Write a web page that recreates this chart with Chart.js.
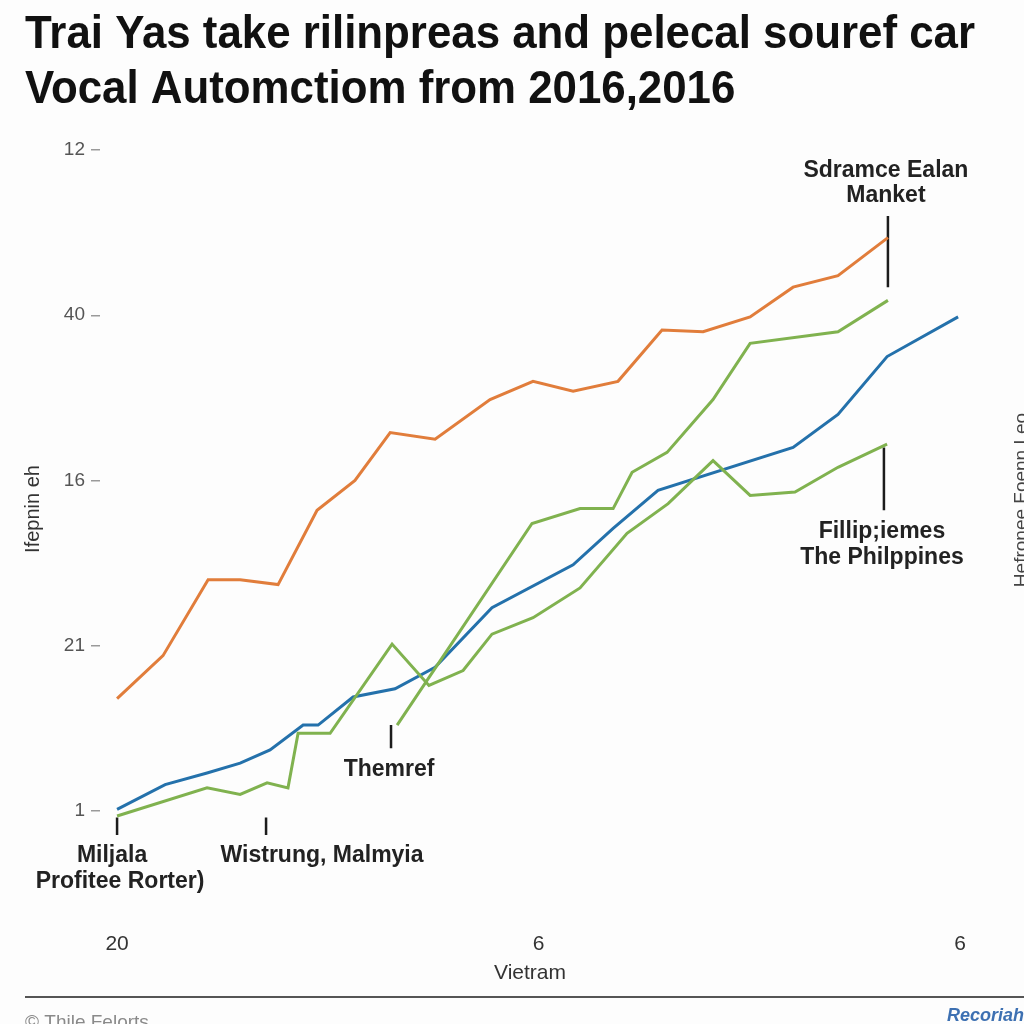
<!DOCTYPE html>
<html>
<head>
<meta charset="utf-8">
<script src="https://cdn.jsdelivr.net/npm/chart.js@4.4.0/dist/chart.umd.min.js"></script>
<style>
  html, body { margin: 0; padding: 0; background: #fdfdfd; }
  canvas { display: block; }
</style>
</head>
<body>
<canvas id="chart" width="1024" height="1024"></canvas>
<script>
// values: x runs 0..40 along the axis, y counts tick steps (0 = "1" ... 4 = "12")
const titleLines = ['Trai Yas take rilinpreas and pelecal souref car', 'Vocal Automctiom from 2016,2016'];
const yTickLabels = ['1', '21', '16', '40', '12'];
const xTickValues = [0, 20, 40];
const xTickLabels = ['20', '6', '6'];

const orangeX = [0, 2.18, 4.32, 5.84, 7.64, 9.49, 11.29, 12.96, 15.09, 17.7, 19.74, 21.64, 23.77, 25.86, 27.81, 30.04, 32.08, 34.21, 36.58];
const orangeY = [0.68, 0.94, 1.40, 1.40, 1.37, 1.82, 2.00, 2.29, 2.25, 2.49, 2.60, 2.54, 2.60, 2.91, 2.90, 2.99, 3.17, 3.24, 3.47];

const blueX = [0, 2.28, 4.27, 5.84, 7.26, 8.83, 9.54, 11.2, 13.19, 15.09, 17.79, 21.64, 23.54, 25.67, 32.08, 34.21, 36.54, 39.91];
const blueY = [0.01, 0.16, 0.23, 0.29, 0.37, 0.52, 0.52, 0.69, 0.74, 0.87, 1.23, 1.49, 1.71, 1.94, 2.20, 2.40, 2.75, 2.99];

const greenLowX = [0, 4.27, 5.84, 7.12, 8.11, 8.59, 10.11, 13.05, 14.8, 16.42, 17.79, 19.74, 21.97, 24.2, 26.15, 28.28, 30.04, 32.17, 34.21, 36.54];
const greenLowY = [-0.03, 0.14, 0.10, 0.17, 0.14, 0.47, 0.47, 1.01, 0.76, 0.85, 1.07, 1.17, 1.35, 1.68, 1.86, 2.12, 1.91, 1.93, 2.08, 2.22];

const greenHighX = [13.29, 19.69, 21.97, 23.54, 24.44, 26.1, 28.28, 30.04, 34.21, 36.58];
const greenHighY = [0.52, 1.74, 1.83, 1.83, 2.05, 2.17, 2.49, 2.83, 2.90, 3.09];

// callout ticks: x, upper end, lower end
const calloutX = [36.58, 36.39, 13.0, 7.07, 0];
const calloutTop = [3.60, 2.20, 0.52, -0.04, -0.04];
const calloutBottom = [3.17, 1.82, 0.38, -0.145, -0.145];
const calloutText = [
  ['Sdramce Ealan', 'Manket'],
  ['Fillip;iemes', 'The Philppines'],
  ['Themref'],
  ['Wistrung, Malmyia'],
  ['Miljala', 'Profitee Rorter)']
];

const yAxisTitle = 'Ifepnin eh';
const rightNote = 'Hefronee Foenn Leo';
const creditLeft = '\u00A9 Thile Felorts';
const creditRight = 'Recoriah';

const toPoints = (xs, ys) => xs.map((x, i) => ({ x, y: ys[i] }));

function lineSet(label, xs, ys, color, width) {
  return {
    label,
    data: toPoints(xs, ys),
    borderColor: color,
    borderWidth: width,
    pointRadius: 0,
    tension: 0,
    fill: false,
    clip: false
  };
}

const datasets = [
  lineSet('greenLow', greenLowX, greenLowY, '#80b24f', 3),
  lineSet('greenHigh', greenHighX, greenHighY, '#80b24f', 3),
  lineSet('blue', blueX, blueY, '#2471ab', 3),
  lineSet('orange', orangeX, orangeY, '#e17d3b', 3)
];
calloutX.forEach((cx, i) => {
  datasets.push(lineSet('callout' + i, [cx, cx], [calloutTop[i], calloutBottom[i]], '#1c1c1c', 2.5));
});

const FONT = '"Liberation Sans", Arial, sans-serif';

const deco = {
  id: 'deco',
  beforeDraw(chart) {
    const ctx = chart.ctx;
    ctx.save();
    ctx.fillStyle = '#fdfdfd';
    ctx.fillRect(0, 0, chart.width, chart.height);
    ctx.restore();
  },
  afterDraw(chart) {
    const { ctx, scales: { x, y } } = chart;
    ctx.save();

    // title, squeezed a little to match the condensed face
    ctx.fillStyle = '#111';
    ctx.textAlign = 'left';
    ctx.textBaseline = 'alphabetic';
    ctx.font = 'bold 46px ' + FONT;
    const k = Math.min(1, 950 / ctx.measureText(titleLines[0]).width);
    titleLines.forEach((t, i) => {
      ctx.save();
      ctx.translate(25, 48 + i * 55);
      ctx.scale(k, 1);
      ctx.fillText(t, 0, 0);
      ctx.restore();
    });

    // rotated y title
    ctx.save();
    ctx.translate(33, 509);
    ctx.rotate(-Math.PI / 2);
    ctx.textAlign = 'center';
    ctx.textBaseline = 'middle';
    ctx.font = '20px ' + FONT;
    ctx.fillStyle = '#333';
    ctx.fillText(yAxisTitle, 0, 0);
    ctx.restore();

    // rotated note cut by the right edge
    ctx.save();
    ctx.translate(1027, 500);
    ctx.rotate(-Math.PI / 2);
    ctx.textAlign = 'center';
    ctx.textBaseline = 'alphabetic';
    ctx.font = '19px ' + FONT;
    ctx.fillStyle = '#444';
    ctx.fillText(rightNote, 0, 0);
    ctx.restore();

    // callout labels
    ctx.font = 'bold 23px ' + FONT;
    ctx.fillStyle = '#222';
    ctx.textAlign = 'center';
    ctx.textBaseline = 'middle';
    calloutText.forEach((lines, i) => {
      const px = x.getPixelForValue(calloutX[i]);
      if (i === 0) {
        const top = y.getPixelForValue(calloutTop[i]);
        ctx.fillText(lines[0], px - 2, top - 45);
        ctx.fillText(lines[1], px - 2, top - 20);
      } else {
        const bot = y.getPixelForValue(calloutBottom[i]);
        const dx = i === 3 ? 56 : (i === 4 ? -5 : -2);
        lines.forEach((t, j) => {
          const shift = (i === 4 && j === 1) ? 8 : 0;
          ctx.fillText(t, px + dx + shift, bot + 21 + j * 26);
        });
      }
    });

    // footer rule and credits
    ctx.strokeStyle = '#555';
    ctx.lineWidth = 2;
    ctx.beginPath();
    ctx.moveTo(25, 997);
    ctx.lineTo(1024, 997);
    ctx.stroke();

    ctx.textBaseline = 'alphabetic';
    ctx.textAlign = 'left';
    ctx.font = '19px ' + FONT;
    ctx.fillStyle = '#8a8a8a';
    ctx.fillText(creditLeft, 25, 1028);
    ctx.textAlign = 'right';
    ctx.font = 'italic bold 18px ' + FONT;
    ctx.fillStyle = '#3d70b2';
    ctx.fillText(creditRight, 1024, 1021);

    ctx.restore();
  }
};

new Chart(document.getElementById('chart'), {
  type: 'line',
  data: { datasets },
  plugins: [deco],
  options: {
    responsive: false,
    animation: false,
    layout: { padding: { left: 25, right: 64, top: 150, bottom: 38 } },
    plugins: {
      legend: { display: false },
      title: { display: false },
      tooltip: { enabled: false }
    },
    scales: {
      x: {
        type: 'linear',
        min: -0.81,
        max: 40,
        afterBuildTicks: s => { s.ticks = xTickValues.map(v => ({ value: v })); },
        afterFit: s => { s.height = 175; },
        // invisible tick marks push the labels far below the plot
        grid: { display: true, drawOnChartArea: false, drawTicks: true, tickLength: 119, tickColor: 'rgba(0,0,0,0)' },
        border: { display: false },
        ticks: {
          padding: 2,
          color: '#333',
          font: { size: 21, family: FONT },
          maxRotation: 0,
          autoSkip: false,
          callback: (v, i) => xTickLabels[i]
        },
        title: {
          display: true,
          text: 'Vietram',
          color: '#333',
          font: { size: 21, family: FONT },
          padding: 0
        }
      },
      y: {
        min: 0,
        max: 4,
        afterFit: s => { s.width = 75; },
        border: { display: false },
        grid: { drawOnChartArea: false, drawTicks: true, tickLength: 9, tickColor: '#9a9a9a', lineWidth: 1.5 },
        ticks: {
          stepSize: 1,
          padding: 6,
          color: '#555',
          font: { size: 19, family: FONT },
          callback: v => yTickLabels[v]
        }
      }
    }
  }
});
</script>
</body>
</html>
